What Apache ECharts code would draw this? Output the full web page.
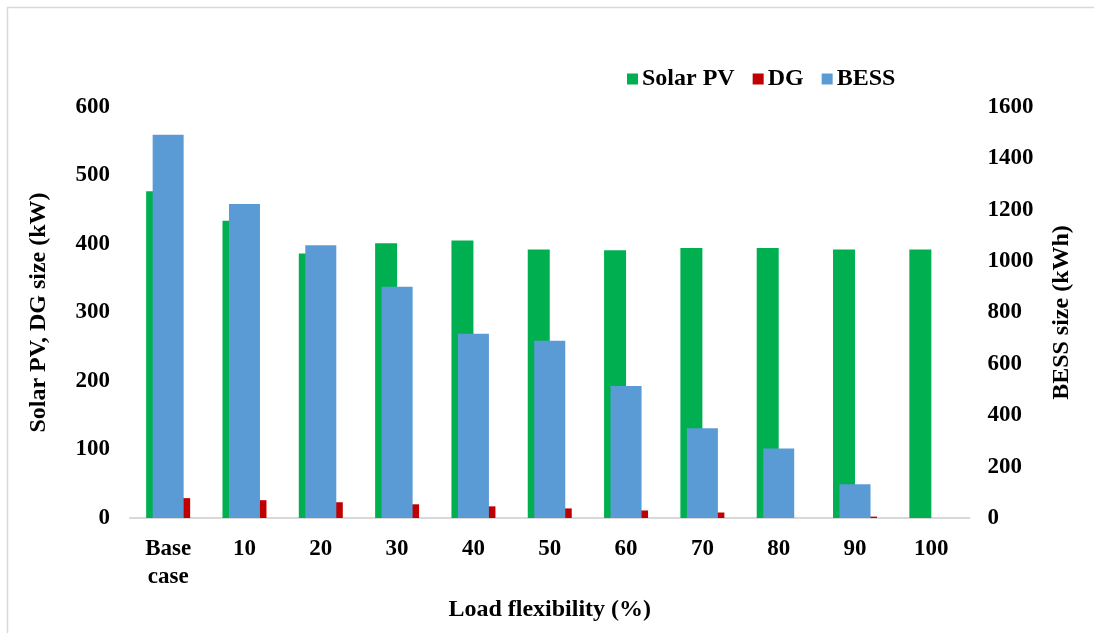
<!DOCTYPE html>
<html>
<head>
<meta charset="utf-8">
<script src="https://cdn.jsdelivr.net/npm/echarts@6/dist/echarts.min.js"></script>
<style>
  html, body { margin: 0; padding: 0; background: #fff; }
  #chart { width: 1094px; height: 633px; }
</style>
</head>
<body>
<div id="chart"></div>
<script>
var categories = ['Base\ncase', '10', '20', '30', '40', '50', '60', '70', '80', '90', '100'];
var solarPV = [477, 434, 386, 401, 405, 392, 391, 394, 394, 392, 392];
var dg = [29, 26, 23, 20, 17, 14, 11, 8, 0, 2, 0];
var bess = [1492, 1222, 1062, 900, 717, 690, 514, 349, 271, 131, 0];

var chartDom = document.getElementById('chart');
var myChart = echarts.init(chartDom);
var font = 'Liberation Serif, Times New Roman, serif';

var option = {
  animation: false,
  backgroundColor: '#fff',
  graphic: [{
    type: 'rect',
    shape: { x: 7.5, y: 7.5, width: 1200, height: 700 },
    style: { fill: 'none', stroke: '#d9d9d9', lineWidth: 1.5 },
    silent: true
  }],
  legend: {
    left: 622,
    top: 62,
    itemWidth: 11,
    itemHeight: 11,
    itemGap: 18,
    icon: 'rect',
    textStyle: { fontFamily: font, fontWeight: 'bold', fontSize: 24, color: '#000', padding: [0, 0, 0, -1] },
    data: ['Solar PV', 'DG', 'BESS']
  },
  grid: { left: 130, right: 124.5, top: 107, bottom: 115, containLabel: false },
  xAxis: [{
    type: 'category',
    data: categories,
    axisLine: { lineStyle: { color: '#d9d9d9', width: 2 } },
    axisTick: { show: false },
    axisLabel: { fontFamily: font, fontWeight: 'bold', fontSize: 23, color: '#000', margin: 17, lineHeight: 28 },
    name: 'Load flexibility (%)',
    nameLocation: 'middle',
    nameGap: 80,
    nameTextStyle: { fontFamily: font, fontWeight: 'bold', fontSize: 24, color: '#000' }
  }, {
    type: 'category',
    data: categories,
    show: false
  }],
  yAxis: [{
    type: 'value',
    min: 0,
    max: 600,
    interval: 100,
    splitLine: { show: false },
    axisLine: { show: false },
    axisTick: { show: false },
    axisLabel: { fontFamily: font, fontWeight: 'bold', fontSize: 23, color: '#000', margin: 20 },
    name: 'Solar PV, DG size (kW)',
    nameLocation: 'middle',
    nameGap: 79,
    nameTextStyle: { fontFamily: font, fontWeight: 'bold', fontSize: 24, color: '#000' }
  }, {
    type: 'value',
    min: 0,
    max: 1600,
    interval: 200,
    position: 'right',
    splitLine: { show: false },
    axisLine: { show: false },
    axisTick: { show: false },
    axisLabel: {
      fontFamily: font, fontWeight: 'bold', fontSize: 23, color: '#000', margin: 18,
      formatter: function (v) { return String(v); }
    },
    name: 'BESS size (kWh)',
    nameLocation: 'middle',
    nameGap: 80,
    nameTextStyle: { fontFamily: font, fontWeight: 'bold', fontSize: 24, color: '#000' }
  }],
  series: [{
    name: 'Solar PV',
    type: 'bar',
    xAxisIndex: 0,
    yAxisIndex: 0,
    barWidth: 22,
    barGap: '0%',
    data: solarPV,
    itemStyle: { color: '#00b050' },
    z: 2
  }, {
    name: 'DG',
    type: 'bar',
    xAxisIndex: 0,
    yAxisIndex: 0,
    barWidth: 22,
    barGap: '0%',
    data: dg,
    itemStyle: { color: '#c00000' },
    z: 2
  }, {
    name: 'BESS',
    type: 'bar',
    xAxisIndex: 1,
    yAxisIndex: 1,
    barWidth: 31,
    data: bess,
    itemStyle: { color: '#5b9bd5' },
    z: 3
  }]
};

option && myChart.setOption(option);
</script>
</body>
</html>
